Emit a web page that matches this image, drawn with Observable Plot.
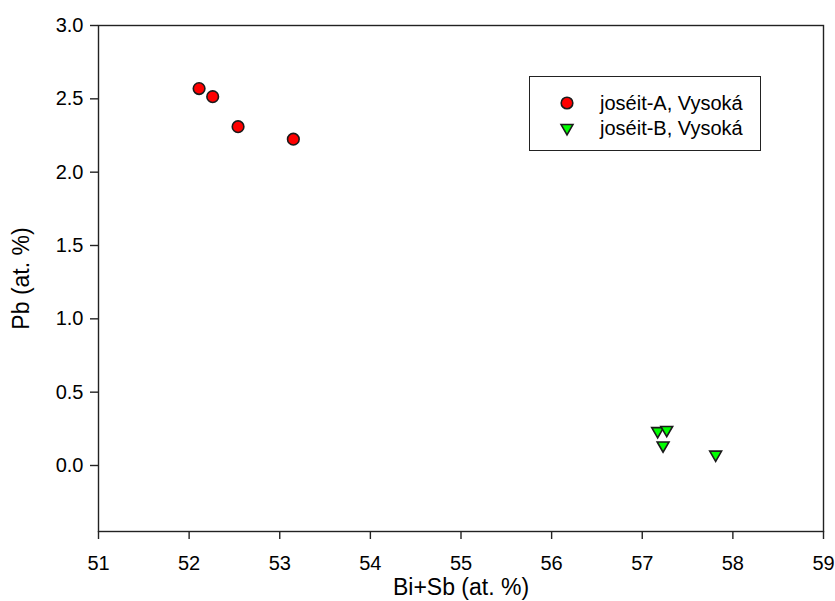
<!DOCTYPE html>
<html>
<head>
<meta charset="utf-8">
<script src="https://cdn.jsdelivr.net/npm/d3@7"></script>
<script src="https://cdn.jsdelivr.net/npm/@observablehq/plot@0.6"></script>
<style>
  html, body { margin: 0; padding: 0; background: #fff; }
  #wrap { position: relative; width: 835px; height: 601px; font-family: "Liberation Sans", Arial, sans-serif; }
  #legend { position: absolute; left: 529px; top: 76px; width: 232px; height: 75px; border: 1px solid #222; box-sizing: border-box; background: #fff; }
  .row { position: absolute; left: 0; width: 100%; height: 24px; font-size: 20px; color: #000; }
  .row svg { position: absolute; left: 27px; top: 2px; }
  .row span { position: absolute; left: 70px; top: 0; line-height: 24px; white-space: nowrap; }
</style>
</head>
<body>
<div id="wrap"></div>
<script>
// Data
const seriesA = "joséit-A, Vysoká";
const seriesB = "joséit-B, Vysoká";
const aBiSb = [52.11, 52.26, 52.54, 53.15];
const aPb   = [2.570, 2.515, 2.310, 2.225];
const bBiSb = [57.17, 57.27, 57.23, 57.81];
const bPb   = [0.235, 0.243, 0.137, 0.075];
const xTicks = [51, 52, 53, 54, 55, 56, 57, 58, 59];
const yTicks = [0.0, 0.5, 1.0, 1.5, 2.0, 2.5, 3.0];
const xTitle = "Bi+Sb (at. %)";
const yTitle = "Pb (at. %)";

const dataA = aBiSb.map((x, i) => ({x, y: aPb[i]}));
const dataB = bBiSb.map((x, i) => ({x, y: bPb[i]}));

const font = "Liberation Sans, Arial, sans-serif";
const chart = Plot.plot({
  width: 835,
  height: 601,
  marginLeft: 98,
  marginRight: 12,
  marginTop: 25,
  marginBottom: 70,
  style: {fontFamily: font, fontSize: "20px", color: "#000", background: "#fff"},
  x: {domain: [51, 59]},
  y: {domain: [-0.45, 3.0]},
  marks: [
    Plot.frame({stroke: "#222", strokeWidth: 1.4}),
    Plot.axisX({ticks: xTicks, tickSize: 8, tickPadding: 16, fontSize: 20, label: null, stroke: "#222", strokeWidth: 1.4}),
    Plot.axisY({ticks: yTicks, tickSize: 8, tickPadding: 7, fontSize: 20, label: null, tickFormat: d3.format(".1f"), stroke: "#222", strokeWidth: 1.4}),
    Plot.text([xTitle], {frameAnchor: "bottom", lineAnchor: "middle", textAnchor: "middle", dy: 56, fontSize: 23, fill: "#000"}),
    Plot.text([yTitle], {frameAnchor: "left", lineAnchor: "middle", textAnchor: "middle", dx: -77, rotate: -90, fontSize: 23, fill: "#000"}),
    Plot.dot(dataA, {x: "x", y: "y", r: 5.8, fill: "#ff0000", stroke: "#1a1a1a", strokeWidth: 1.6}),
    Plot.dot(dataB, {x: "x", y: "y", symbol: "triangle", rotate: 180, r: 4.4, fill: "#00ff00", stroke: "#1a1a1a", strokeWidth: 1.6})
  ]
});

const wrap = document.getElementById("wrap");
wrap.appendChild(chart);

// Legend (HTML overlay)
const legend = document.createElement("div");
legend.id = "legend";
const items = [
  {label: seriesA, sym: d3.symbolCircle, size: 106, fill: "#ff0000", rot: 0, top: 14},
  {label: seriesB, sym: d3.symbolTriangle, size: 61, fill: "#00ff00", rot: 180, top: 39}
];
for (const it of items) {
  const row = document.createElement("div");
  row.className = "row";
  row.style.top = it.top + "px";
  const path = d3.symbol(it.sym, it.size)();
  row.innerHTML = `<svg width="20" height="20" viewBox="-10 -10 20 20"><path d="${path}" transform="rotate(${it.rot})" fill="${it.fill}" stroke="#1a1a1a" stroke-width="1.6"/></svg><span>${it.label}</span>`;
  legend.appendChild(row);
}
wrap.appendChild(legend);
</script>
</body>
</html>
